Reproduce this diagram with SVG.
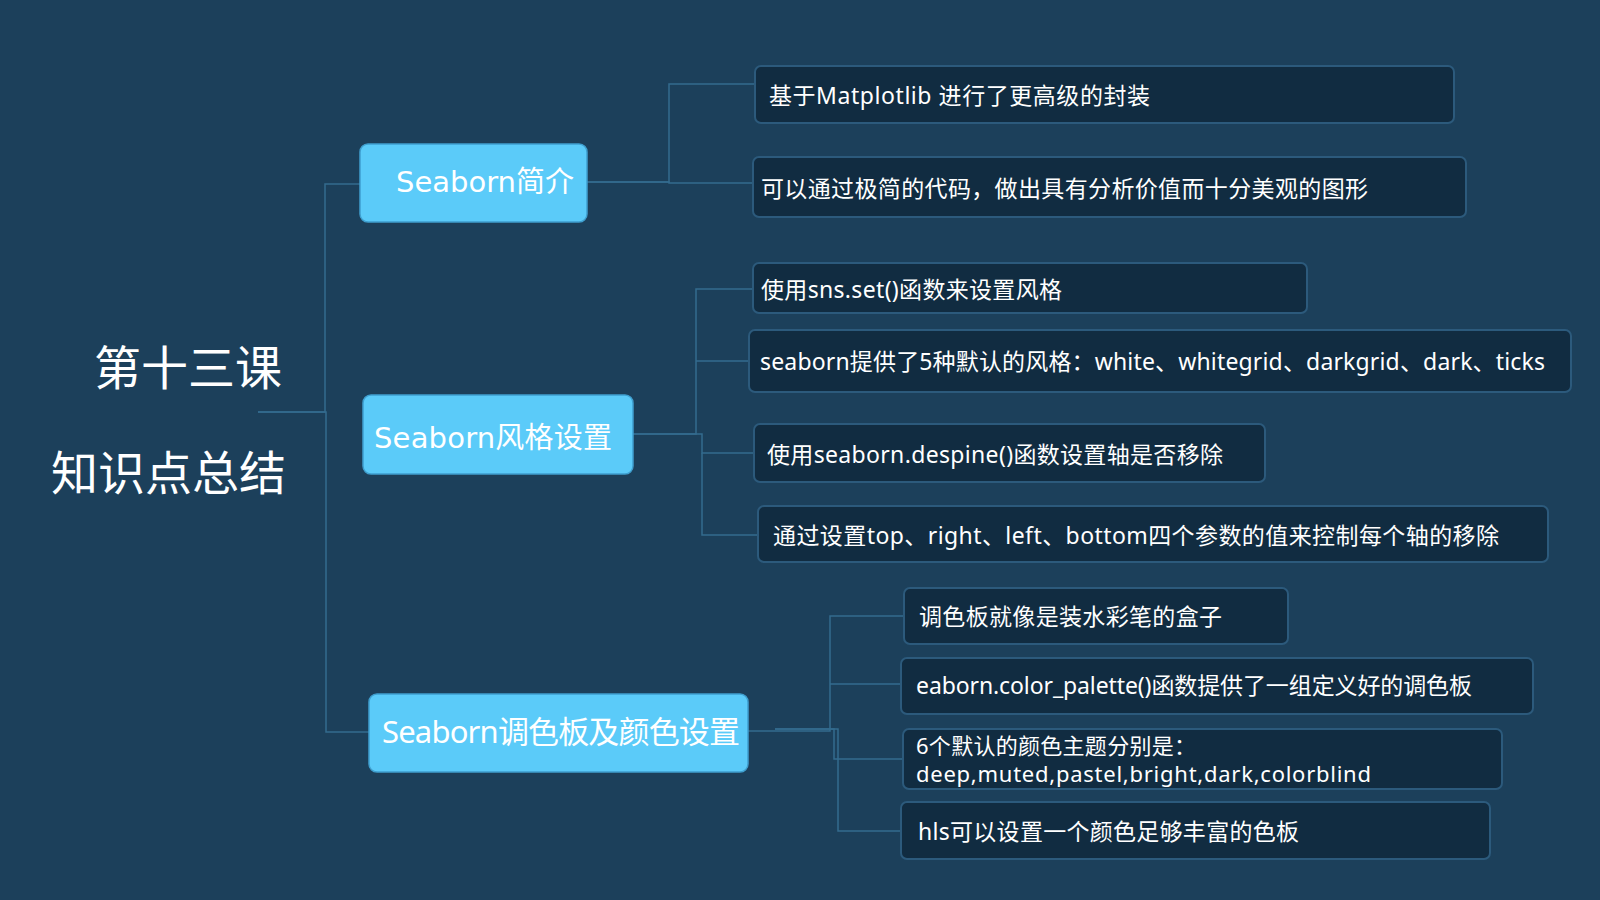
<svg xmlns="http://www.w3.org/2000/svg" width="1600" height="900" viewBox="0 0 1600 900">
<style>
.bg{fill:#1c405b}
.title{font-family:"Noto Sans CJK SC","Noto Sans",sans-serif;font-size:47px;fill:#ffffff}
.main rect{fill:#5bcbf9;stroke:#3f9fcf;stroke-width:1.5}
.main text{font-family:"DejaVu Sans","Noto Sans CJK SC",sans-serif;font-size:29px;fill:#ffffff;dominant-baseline:central}
.main text.n{font-family:"Noto Sans","Noto Sans CJK SC",sans-serif;font-size:31px}
.leaf rect{fill:#112c41;stroke:#2c5a7c;stroke-width:2}
.leaf text{font-family:"Noto Sans","Noto Sans CJK SC",sans-serif;font-size:23px;fill:#ffffff;dominant-baseline:central}
.leaf text.s{font-size:22px}
.conn path{fill:none;stroke:#336b8f;stroke-width:1.5}
</style>
<rect class="bg" x="0" y="0" width="1600" height="900"/>

<g id="connectors" class="conn">
<path d="M258 412 H325 V184 H360"/>
<path d="M258 412 H326 V732 H369"/>
<path d="M581 182 H669 V84 H755"/>
<path d="M581 182 H669 V183 H753"/>
<path d="M633 434 H696 V289 H753"/>
<path d="M696 361 H749"/>
<path d="M633 434 H702 V453 H754"/>
<path d="M702 453 V535 H758"/>
<path d="M745 731 H830 V616 H904"/>
<path d="M830 684 H901"/>
<path d="M775 729 H834 V759 H903"/>
<path d="M775 729 H838 V831 H901"/>
</g>

<g id="title">
<text class="title" x="94" y="385">第十三课</text>
<text class="title" x="51" y="490">知识点总结</text>
</g>

<g id="node-intro" class="main">
<rect x="360" y="144" width="227" height="78" rx="8"/>
<text x="396" y="182" textLength="178">Seaborn简介</text>
</g>
<g id="node-style" class="main">
<rect x="363" y="395" width="270" height="79" rx="8"/>
<text x="374" y="438" textLength="238">Seaborn风格设置</text>
</g>
<g id="node-palette" class="main">
<rect x="369" y="694" width="379" height="78" rx="8"/>
<text class="n" x="382" y="731" textLength="358">Seaborn调色板及颜色设置</text>
</g>

<g id="leaf1" class="leaf">
<rect x="755" y="66" width="699" height="57" rx="6"/>
<text x="769" y="95" textLength="381">基于Matplotlib 进行了更高级的封装</text>
</g>
<g id="leaf2" class="leaf">
<rect x="753" y="157" width="713" height="60" rx="6"/>
<text x="761" y="188" textLength="607">可以通过极简的代码，做出具有分析价值而十分美观的图形</text>
</g>
<g id="leaf3" class="leaf">
<rect x="753" y="263" width="554" height="50" rx="6"/>
<text x="761" y="289" textLength="301">使用sns.set()函数来设置风格</text>
</g>
<g id="leaf4" class="leaf">
<rect x="749" y="330" width="822" height="62" rx="6"/>
<text x="760" y="361" textLength="785">seaborn提供了5种默认的风格：white、whitegrid、darkgrid、dark、ticks</text>
</g>
<g id="leaf5" class="leaf">
<rect x="754" y="424" width="511" height="58" rx="6"/>
<text x="767" y="454" textLength="456">使用seaborn.despine()函数设置轴是否移除</text>
</g>
<g id="leaf6" class="leaf">
<rect x="758" y="506" width="790" height="56" rx="6"/>
<text x="773" y="535" textLength="726">通过设置top、right、left、bottom四个参数的值来控制每个轴的移除</text>
</g>
<g id="leaf7" class="leaf">
<rect x="904" y="588" width="384" height="56" rx="6"/>
<text x="919" y="616" textLength="303">调色板就像是装水彩笔的盒子</text>
</g>
<g id="leaf8" class="leaf">
<rect x="901" y="658" width="632" height="56" rx="6"/>
<text x="916" y="685" textLength="556">eaborn.color_palette()函数提供了一组定义好的调色板</text>
</g>
<g id="leaf9" class="leaf">
<rect x="903" y="729" width="599" height="60" rx="6"/>
<text class="s" x="916" y="745" textLength="280">6个默认的颜色主题分别是：</text>
<text class="s" x="916" y="773" textLength="455">deep,muted,pastel,bright,dark,colorblind</text>
</g>
<g id="leaf10" class="leaf">
<rect x="901" y="802" width="589" height="57" rx="6"/>
<text x="918" y="831" textLength="381">hls可以设置一个颜色足够丰富的色板</text>
</g>
</svg>
